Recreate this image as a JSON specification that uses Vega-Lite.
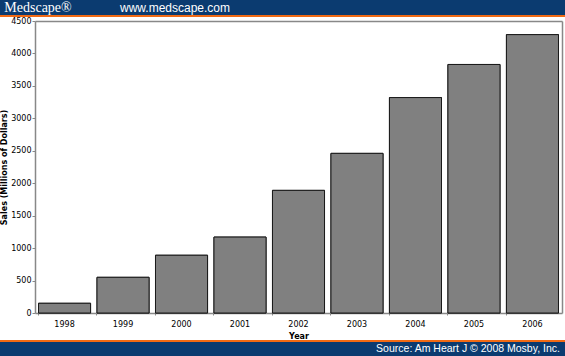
{
  "$schema": "https://vega.github.io/schema/vega-lite/v6.json",
  "padding": 0,
  "spacing": 0,
  "background": "white",
  "config": {
    "view": {"stroke": null},
    "concat": {"spacing": 0},
    "font": "DejaVu Sans"
  },
  "datasets": {
    "blank": [{}],
    "sales": [
      {"Year": "1998", "Sales": 150},
      {"Year": "1999", "Sales": 550},
      {"Year": "2000", "Sales": 890},
      {"Year": "2001", "Sales": 1170},
      {"Year": "2002", "Sales": 1890},
      {"Year": "2003", "Sales": 2460},
      {"Year": "2004", "Sales": 3320},
      {"Year": "2005", "Sales": 3830},
      {"Year": "2006", "Sales": 4290}
    ],
    "brand": [{"label": "Medscape®"}],
    "site": [{"label": "www.medscape.com"}],
    "source": [{"label": "Source: Am Heart J © 2008 Mosby, Inc."}]
  },
  "vconcat": [
    {
      "spacing": 0,
      "hconcat": [
        {
          "width": 76, "height": 15,
          "layer": [
            {"data": {"name": "blank"}, "mark": {"type": "rect", "color": "#0b3b70"}, "encoding": {}},
            {"data": {"name": "brand"}, "mark": {"type": "text", "color": "white", "font": "Liberation Serif", "fontSize": 14, "baseline": "middle"}, "encoding": {"text": {"field": "label"}}}
          ]
        },
        {
          "width": 198, "height": 15,
          "layer": [
            {"data": {"name": "blank"}, "mark": {"type": "rect", "color": "#0b3b70"}, "encoding": {}},
            {"data": {"name": "site"}, "mark": {"type": "text", "color": "white", "font": "Liberation Sans", "fontSize": 12, "baseline": "middle"}, "encoding": {"text": {"field": "label"}}}
          ]
        },
        {
          "width": 291, "height": 15,
          "data": {"name": "blank"}, "mark": {"type": "rect", "color": "#0b3b70"}, "encoding": {}
        }
      ]
    },
    {
      "width": 565, "height": 2,
      "data": {"name": "blank"}, "mark": {"type": "rect", "color": "#f26a14"}, "encoding": {}
    },
    {
      "width": 562, "height": 292,
      "data": {"name": "sales"},
      "resolve": {"axis": {"x": "independent", "y": "independent"}},
      "layer": [
        {
          "mark": {"type": "bar", "color": "#808080", "stroke": "#1a1a1a", "strokeWidth": 1},
          "encoding": {
            "x": {
              "field": "Year", "type": "nominal",
              "scale": {"paddingInner": 0.11, "paddingOuter": 0.06, "range": [35, 562]},
              "axis": {
                "title": "Year", "titleFontSize": 8, "titleFontWeight": "bold", "titleColor": "black",
                "titleAnchor": "middle", "titlePadding": 4,
                "labelAngle": 0, "labelFontSize": 8, "labelColor": "black", "labelPadding": 5,
                "domainColor": "#888888", "domainWidth": 1.5, "tickColor": "#888888", "tickSize": 2, "bandPosition": 0
              }
            },
            "y": {
              "field": "Sales", "type": "quantitative",
              "scale": {"domain": [0, 4500], "nice": false},
              "axis": {
                "title": "Sales (Millions of Dollars)", "titleFontSize": 8, "titleFontWeight": "bold", "titleColor": "black",
                "titlePadding": 2, "format": "d", "offset": -35,
                "values": [0, 500, 1000, 1500, 2000, 2500, 3000, 3500, 4000, 4500],
                "labelFontSize": 8, "labelColor": "black", "labelPadding": 1,
                "grid": false, "domainColor": "#888888", "domainWidth": 1.5, "tickColor": "#888888", "tickSize": 3
              }
            }
          }
        },
        {
          "mark": {"type": "bar", "color": "#808080", "stroke": "#1a1a1a", "strokeWidth": 1},
          "encoding": {
            "x": {
              "field": "Year", "type": "nominal",
              "axis": {"orient": "top", "title": null, "labels": false, "ticks": false, "domainColor": "#888888", "domainWidth": 1.5}
            },
            "y": {
              "field": "Sales", "type": "quantitative",
              "axis": {"orient": "right", "title": null, "labels": false, "ticks": false, "grid": false, "domainColor": "#888888", "domainWidth": 1.5}
            }
          }
        }
      ]
    },
    {
      "width": 565, "height": 2,
      "data": {"name": "blank"}, "mark": {"type": "rect", "color": "#f26a14"}, "encoding": {}
    },
    {
      "spacing": 0,
      "hconcat": [
        {
          "width": 371, "height": 14,
          "data": {"name": "blank"}, "mark": {"type": "rect", "color": "#0b3b70"}, "encoding": {}
        },
        {
          "width": 194, "height": 14,
          "layer": [
            {"data": {"name": "blank"}, "mark": {"type": "rect", "color": "#0b3b70"}, "encoding": {}},
            {"data": {"name": "source"}, "mark": {"type": "text", "color": "white", "font": "Liberation Sans", "fontSize": 10.5, "baseline": "middle"}, "encoding": {"text": {"field": "label"}}}
          ]
        }
      ]
    }
  ]
}
